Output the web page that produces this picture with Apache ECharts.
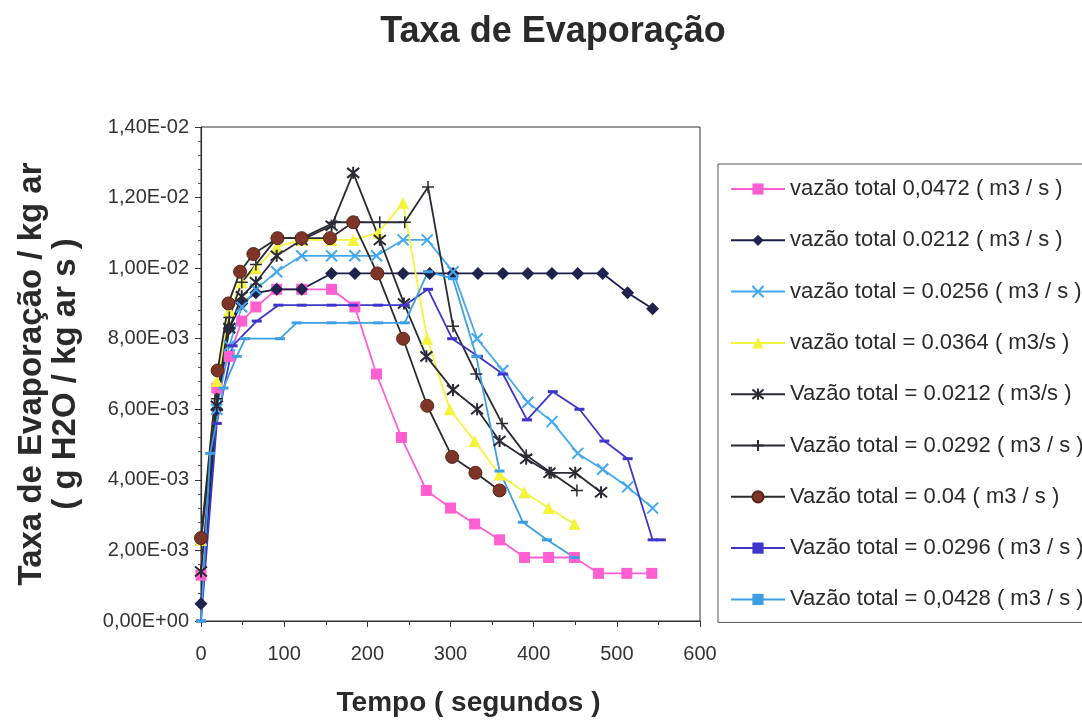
<!DOCTYPE html>
<html><head><meta charset="utf-8">
<script src="https://cdn.jsdelivr.net/npm/echarts@6/dist/echarts.min.js"></script>
<style>html,body{margin:0;padding:0;background:#fff}#c{width:1082px;height:722px}</style>
</head><body><div id="c"></div>
<script>
// ---- DATA (time in s, rate in g H2O / kg ar s) ----
const seriesNames = [
  'vazão total 0,0472 ( m3 / s )',
  'vazão total 0.0212 ( m3 / s )',
  'vazão total = 0.0256 ( m3 / s )',
  'vazão total = 0.0364 ( m3/s )',
  'Vazão total = 0.0212 ( m3/s )',
  'Vazão total = 0.0292 ( m3 / s )',
  'Vazão total = 0.04 ( m3 / s )',
  'Vazão total = 0.0296 ( m3 / s )',
  'Vazão total = 0,0428 ( m3 / s )'
];
const t1 = [0,19,34,49,66,91,121,157,185,211,241,271,300,329,359,389,418,449,478,512,542];
const v1 = [1.3e-3,6.6e-3,7.5e-3,8.5e-3,8.9e-3,9.4e-3,9.4e-3,9.4e-3,8.9e-3,7.0e-3,5.2e-3,3.7e-3,3.2e-3,2.75e-3,2.3e-3,1.8e-3,1.8e-3,1.8e-3,1.35e-3,1.35e-3,1.35e-3];
const t2 = [0,19,34,49,66,91,121,157,185,213,243,275,303,333,363,393,422,453,483,513,543];
const v2 = [0.49e-3,6.0e-3,8.3e-3,9.0e-3,9.3e-3,9.4e-3,9.4e-3,9.85e-3,9.85e-3,9.85e-3,9.85e-3,9.85e-3,9.85e-3,9.85e-3,9.85e-3,9.85e-3,9.85e-3,9.85e-3,9.85e-3,9.3e-3,8.85e-3];
const t3 = [0,19,34,49,66,91,121,157,185,211,243,272,303,332,363,393,422,453,483,513,543];
const v3 = [2.3e-3,6.0e-3,7.8e-3,8.9e-3,9.4e-3,9.9e-3,10.35e-3,10.35e-3,10.35e-3,10.35e-3,10.8e-3,10.8e-3,9.9e-3,8.0e-3,7.1e-3,6.2e-3,5.65e-3,4.75e-3,4.3e-3,3.8e-3,3.2e-3];
const t4 = [0,19,34,49,66,91,121,157,183,213,243,272,299,329,359,389,418,449];
const v4 = [2.3e-3,6.8e-3,8.8e-3,9.6e-3,10.0e-3,10.6e-3,10.8e-3,10.8e-3,10.8e-3,11.0e-3,11.85e-3,8.0e-3,6.0e-3,5.1e-3,4.15e-3,3.65e-3,3.2e-3,2.75e-3];
const t5 = [0,19,34,49,66,91,121,157,183,215,244,271,303,332,359,391,419,450,481];
const v5 = [1.4e-3,6.1e-3,8.3e-3,9.2e-3,9.6e-3,10.35e-3,10.8e-3,11.2e-3,12.7e-3,10.8e-3,9.0e-3,7.5e-3,6.55e-3,6.0e-3,5.1e-3,4.6e-3,4.2e-3,4.2e-3,3.65e-3];
const t6 = [0,19,34,49,66,91,121,161,188,215,245,273,303,331,362,391,421,452];
const v6 = [2.3e-3,6.3e-3,8.6e-3,9.6e-3,10.1e-3,10.85e-3,10.85e-3,11.3e-3,11.3e-3,11.3e-3,11.3e-3,12.3e-3,8.35e-3,7.0e-3,5.6e-3,4.7e-3,4.2e-3,3.7e-3];
const t7 = [0,20,33,47,63,92,121,155,183,212,243,272,302,330,359];
const v7 = [2.35e-3,7.1e-3,9.0e-3,9.9e-3,10.4e-3,10.85e-3,10.85e-3,10.85e-3,11.3e-3,9.85e-3,8.0e-3,6.1e-3,4.65e-3,4.2e-3,3.7e-3];
const t8 = [0,19,38,67,93,121,157,183,213,245,273,302,333,363,392,423,455,485,513,543,553];
const v8 = [0,5.6e-3,7.8e-3,8.5e-3,8.95e-3,8.95e-3,8.95e-3,8.95e-3,8.95e-3,8.95e-3,9.4e-3,8.0e-3,7.5e-3,7.0e-3,5.7e-3,6.5e-3,6.0e-3,5.1e-3,4.6e-3,2.3e-3,2.3e-3];
const t9 = [0,11,27,43,53,95,115,157,183,213,245,273,303,331,359,387,416,449];
const v9 = [0,4.75e-3,6.6e-3,7.5e-3,8.0e-3,8.0e-3,8.45e-3,8.45e-3,8.45e-3,8.45e-3,8.45e-3,9.9e-3,9.7e-3,7.5e-3,4.25e-3,2.8e-3,2.3e-3,1.8e-3];
const xTicks = [0,100,200,300,400,500,600];

const T = [t1,t2,t3,t4,t5,t6,t7,t8,t9];
const V = [v1,v2,v3,v4,v5,v6,v7,v8,v9];

const FONT = '"Liberation Sans", Arial, sans-serif';
const styles = [
  {line:'#ff5fd0', sym:'rect', size:11, fill:'#ff5fd0', border:'#ff5fd0', bw:0},
  {line:'#1c1c4a', sym:'diamond', size:13, fill:'#22224e', border:'#22224e', bw:0},
  {line:'#45a8ee', sym:'path://M0,0L10,10M10,0L0,10', size:11, fill:'none', border:'#45a8ee', bw:2},
  {line:'#f4f43c', sym:'triangle', size:12, fill:'#f4f43c', border:'#f4f43c', bw:0},
  {line:'#2b2b36', sym:'path://M0,0L10,10M10,0L0,10M5,-1L5,11', size:12, fill:'none', border:'#2b2b36', bw:2},
  {line:'#2b2b36', sym:'path://M5,0L5,10M0,5L10,5', size:12, fill:'none', border:'#2b2b36', bw:1.5},
  {line:'#2b2b2b', sym:'circle', size:13, fill:'#7c3526', border:'#5a2418', bw:1},
  {line:'#3f36c9', sym:'rect', size:[10,3], fill:'#3f36c9', border:'#3f36c9', bw:0},
  {line:'#3d9fe2', sym:'rect', size:[10,3], fill:'#3d9fe2', border:'#3d9fe2', bw:0}
];

function fmt(v){
  if (Math.abs(v) < 1e-12) return '0,00E+00';
  const s = v.toExponential(2);
  const [m, e] = s.split('e');
  const en = parseInt(e,10);
  const es = (en<0?'-':'+') + String(Math.abs(en)).padStart(2,'0');
  return m.replace('.',',') + 'E' + es;
}

const series = seriesNames.map((n,i)=>({
  name:n, type:'line',
  data:T[i].map((t,j)=>[t,V[i][j]]),
  symbol:styles[i].sym, symbolSize:styles[i].size,
  lineStyle:{color:styles[i].line, width:1.8},
  itemStyle:{color:styles[i].fill, borderColor:styles[i].border, borderWidth:styles[i].bw},
  emphasis:{disabled:true},
  animation:false
}));

const chart = echarts.init(document.getElementById('c'), null, {renderer:'canvas'});
chart.setOption({
  backgroundColor:'#fff',
  animation:false,
  title:{text:'Taxa de Evaporação', left:548, top:9, textAlign:'center',
    textStyle:{fontFamily:FONT, fontSize:36, fontWeight:'bold', color:'#2a2a2a'}},
  grid:{left:201, right:382, top:127, bottom:98, show:true, borderColor:'#333', borderWidth:1, backgroundColor:'transparent'},
  legend:{orient:'vertical', left:718, top:164, itemWidth:54, itemHeight:14, itemGap:29.3,
    padding:[14,40,12,12], borderColor:'#555', borderWidth:1,
    textStyle:{fontFamily:FONT, fontSize:22, color:'#2a2a2a', padding:[0,0,0,0]},
    data:seriesNames},
  xAxis:{type:'value', min:0, max:600, interval:100,
    name:'Tempo ( segundos )', nameLocation:'middle', nameGap:68,
    nameTextStyle:{fontFamily:FONT, fontSize:28, fontWeight:'bold', color:'#2a2a2a', padding:[0,0,0,36]},
    axisLine:{lineStyle:{color:'#333', width:1.2}},
    axisTick:{length:6, lineStyle:{color:'#333'}},
    minorTick:{show:true, splitNumber:2, length:4, lineStyle:{color:'#333'}},
    splitLine:{show:false},
    axisLabel:{fontFamily:FONT, fontSize:20, color:'#333', margin:23,
      formatter:v=>xTicks.includes(v)?String(v):''}},
  yAxis:{type:'value', min:0, max:0.014, interval:0.002,
    name:'Taxa de Evaporação / kg ar\n( g H2O / kg ar s )', nameLocation:'middle', nameGap:118, nameRotate:90,
    nameTextStyle:{fontFamily:FONT, fontSize:33, fontWeight:'bold', color:'#2a2a2a', lineHeight:34},
    axisLine:{show:true, lineStyle:{color:'#333', width:1.2}},
    axisTick:{show:true, length:6, lineStyle:{color:'#333'}},
    minorTick:{show:true, splitNumber:5, length:3, lineStyle:{color:'#555'}},
    splitLine:{show:false},
    axisLabel:{fontFamily:FONT, fontSize:20, color:'#333', margin:12, formatter:fmt}},
  series:series
});
</script></body></html>
